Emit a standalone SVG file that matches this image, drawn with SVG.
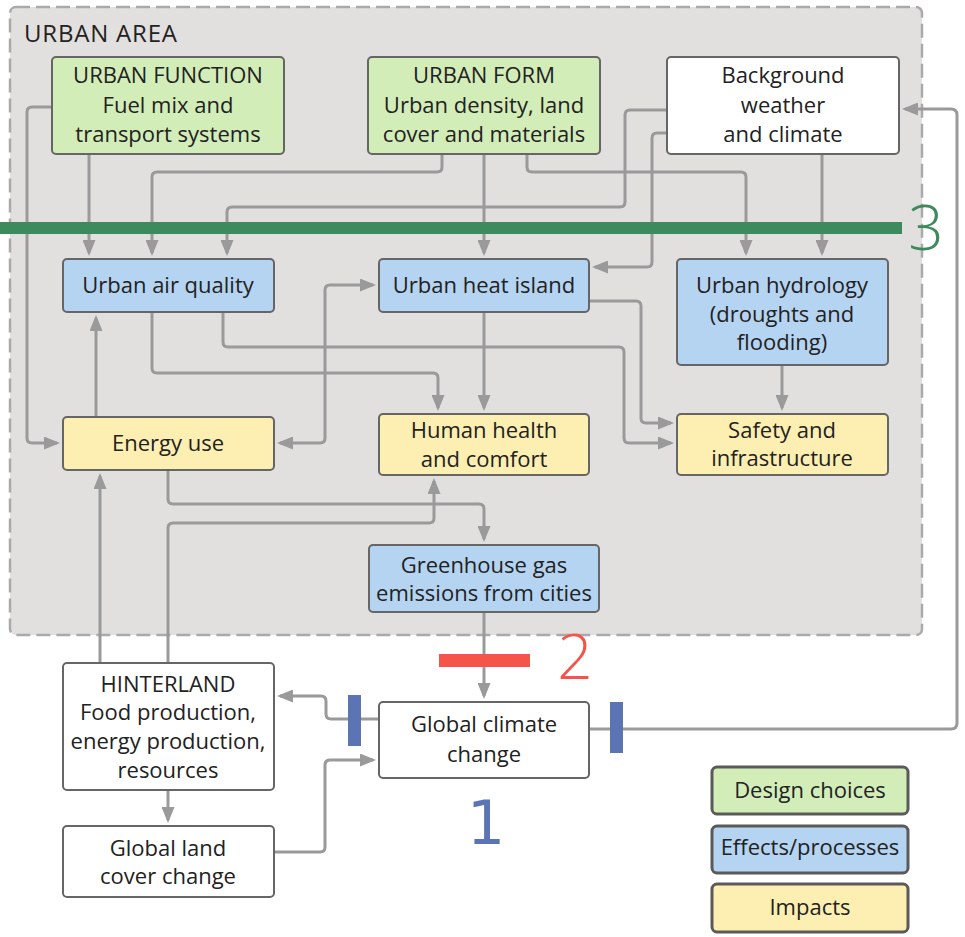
<svg xmlns="http://www.w3.org/2000/svg" width="965" height="937" viewBox="0 0 965 937">
<style>
text{font-family:"Open Sans","Liberation Sans",sans-serif;font-size:22px;fill:#222;text-anchor:middle}
.box{stroke:#666;stroke-width:2}
.g{fill:#d3edb9}.b{fill:#b5d4f1}.y{fill:#fdefb1}.w{fill:#fff}
.leg{stroke:#5a5a5a;stroke-width:3}
.c{fill:none;stroke:#9a9a9a;stroke-width:3;marker-end:url(#ah)}
.num{font-size:62px;font-weight:300}
</style>
<defs>
<marker id="ah" markerWidth="16" markerHeight="13" refX="13" refY="6.5" orient="auto-start-reverse" markerUnits="userSpaceOnUse"><path d="M0,0 L16,6.5 L0,13 z" fill="#9a9a9a"/></marker>
</defs>
<rect width="965" height="937" fill="#fff"/>
<g id="urban-area">
<rect x="10" y="7" width="912" height="628" rx="6" fill="#e2dfdf" stroke="#aaa" stroke-width="2.5" stroke-dasharray="14 6"/>
<text x="24" y="42" style="text-anchor:start;font-size:24px" letter-spacing="0.8">URBAN AREA</text>
</g>
<g id="connectors">
<path class="c" d="M52,107 H32 Q27,107 27,112 V438 Q27,443 32,443 H57"/>
<path class="c" d="M89,154 V253"/>
<path class="c" d="M442,154 V167 Q442,172 437,172 H157 Q152,172 152,177 V253"/>
<path class="c" d="M667,110 H630 Q625,110 625,115 V202 Q625,207 620,207 H232 Q227,207 227,212 V253"/>
<path class="c" d="M484,154 V253"/>
<path class="c" d="M527,154 V167 Q527,172 532,172 H741 Q746,172 746,177 V253"/>
<path class="c" d="M667,133 H657 Q652,133 652,138 V262 Q652,267 647,267 H595"/>
<path class="c" d="M822,154 V253"/>
<path class="c" d="M96,417 V318"/>
<path class="c" d="M152,312 V368 Q152,373 157,373 H433 Q438,373 438,378 V408"/>
<path class="c" d="M223,312 V342 Q223,347 228,347 H619 Q624,347 624,352 V438 Q624,443 629,443 H671"/>
<path class="c" d="M589,301 H636 Q641,301 641,306 V418 Q641,423 646,423 H671"/>
<path class="c" d="M484,312 V408"/>
<path class="c" style="marker-start:url(#ah)" d="M280,443 H320 Q325,443 325,438 V290 Q325,285 330,285 H373"/>
<path class="c" d="M782,365 V408"/>
<path class="c" d="M168,470 V499 Q168,504 173,504 H479 Q484,504 484,509 V539"/>
<path class="c" d="M100,663 V476"/>
<path class="c" d="M168,663 V528 Q168,523 173,523 H429 Q434,523 434,518 V481"/>
<path class="c" d="M484,612 V696"/>
<path class="c" d="M379,719 H331 Q326,719 326,714 V701 Q326,696 321,696 H280"/>
<path class="c" d="M274,852 H320 Q325,852 325,847 V765 Q325,760 330,760 H373"/>
<path class="c" d="M168,790 V820"/>
<path class="c" d="M589,729 H951 Q957,729 957,723 V115 Q957,109 951,109 H905"/>
</g>
<g id="urban-function">
<rect class="box g" x="52" y="57" width="232" height="97" rx="4"/>
<text x="168" y="83">URBAN FUNCTION</text>
<text x="168" y="113">Fuel mix and</text>
<text x="168" y="142">transport systems</text>
</g>
<g id="urban-form">
<rect class="box g" x="368" y="57" width="232" height="97" rx="4"/>
<text x="484" y="83">URBAN FORM</text>
<text x="484" y="113">Urban density, land</text>
<text x="484" y="142">cover and materials</text>
</g>
<g id="background-weather">
<rect class="box w" x="667" y="57" width="232" height="97" rx="4"/>
<text x="783" y="83">Background</text>
<text x="783" y="113">weather</text>
<text x="783" y="142">and climate</text>
</g>
<g id="urban-air-quality">
<rect class="box b" x="63" y="259" width="211" height="53" rx="4"/>
<text x="168" y="293">Urban air quality</text>
</g>
<g id="urban-heat-island">
<rect class="box b" x="379" y="259" width="210" height="53" rx="4"/>
<text x="484" y="293">Urban heat island</text>
</g>
<g id="urban-hydrology">
<rect class="box b" x="677" y="259" width="211" height="106" rx="4"/>
<text x="782" y="293">Urban hydrology</text>
<text x="782" y="322">(droughts and</text>
<text x="782" y="350">flooding)</text>
</g>
<g id="energy-use">
<rect class="box y" x="63" y="417" width="211" height="53" rx="4"/>
<text x="168" y="451">Energy use</text>
</g>
<g id="human-health">
<rect class="box y" x="379" y="414" width="210" height="61" rx="4"/>
<text x="484" y="438">Human health</text>
<text x="484" y="467">and comfort</text>
</g>
<g id="safety">
<rect class="box y" x="677" y="414" width="211" height="61" rx="4"/>
<text x="782" y="438">Safety and</text>
<text x="782" y="466">infrastructure</text>
</g>
<g id="greenhouse-gas">
<rect class="box b" x="369" y="545" width="230" height="67" rx="4"/>
<text x="484" y="573">Greenhouse gas</text>
<text x="484" y="601">emissions from cities</text>
</g>
<g id="global-climate-change">
<rect class="box w" x="379" y="702" width="210" height="76" rx="4"/>
<text x="484" y="732">Global climate</text>
<text x="484" y="762">change</text>
</g>
<g id="hinterland">
<rect class="box w" x="63" y="663" width="211" height="127" rx="4"/>
<text x="168" y="692">HINTERLAND</text>
<text x="168" y="720">Food production,</text>
<text x="168" y="749">energy production,</text>
<text x="168" y="778">resources</text>
</g>
<g id="global-land-cover">
<rect class="box w" x="63" y="826" width="211" height="71" rx="4"/>
<text x="168" y="856">Global land</text>
<text x="168" y="884">cover change</text>
</g>
<g id="markers">
<rect x="0" y="222" width="902" height="12" fill="#3d8a5c"/>
<text class="num" x="926" y="250" style="fill:#3d8a5c">3</text>
<rect x="439" y="654" width="91" height="13" fill="#f5544a"/>
<text class="num" x="575" y="679" style="fill:#f5544a">2</text>
<rect x="348" y="695" width="13" height="51" fill="#5b74b3"/>
<rect x="610" y="702" width="13" height="51" fill="#5b74b3"/>
<text x="486" y="844" style="fill:#5b74b3;font-family:'DejaVu Sans',sans-serif;font-size:60px">1</text>
</g>
<g id="legend">
<g id="legend-design"><rect class="leg g" x="712" y="767" width="196" height="47" rx="5"/><text x="810" y="798">Design choices</text></g>
<g id="legend-effects"><rect class="leg b" x="712" y="826" width="196" height="47" rx="5"/><text x="810" y="855">Effects/processes</text></g>
<g id="legend-impacts"><rect class="leg y" x="712" y="884" width="196" height="48" rx="5"/><text x="810" y="915">Impacts</text></g>
</g>
</svg>
